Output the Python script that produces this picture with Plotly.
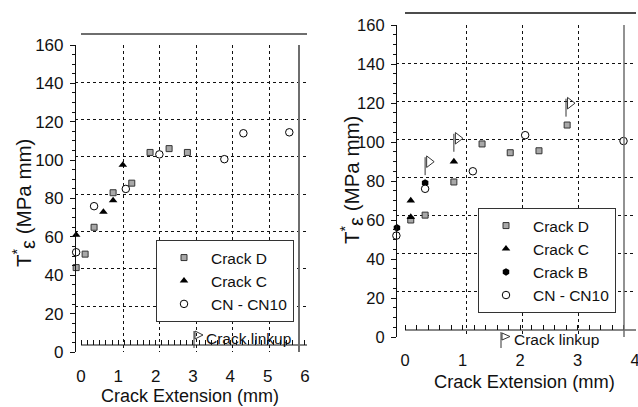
import plotly.graph_objects as go

# ---------------- data ----------------
# Left panel
L_D_x = [-0.13, 0.11, 0.35, 0.86, 1.36, 1.85, 2.36, 2.85]
L_D_y = [44, 51, 65, 83, 88, 104, 106, 104]
L_C_x = [-0.13, 0.60, 0.86, 1.12]
L_C_y = [61, 73, 79, 97.5]
L_CN_x = [-0.13, 0.35, 1.20, 2.10, 3.84, 4.35, 5.58]
L_CN_y = [52, 76, 85, 103, 100.5, 114, 114.5]

# Right panel
R_D_x = [0.10, 0.35, 0.85, 1.34, 1.83, 2.33, 2.82]
R_D_y = [60, 62.5, 79.5, 99, 94.5, 95.5, 108.7]
R_C_x = [0.10, 0.10, 0.85]
R_C_y = [61.5, 70, 90]
R_B_x = [-0.14, 0.35]
R_B_y = [56, 79]
R_CN_x = [-0.15, 0.35, 1.18, 2.09, 3.80]
R_CN_y = [52, 76, 85, 103.5, 100.5]
R_link_x = [0.35, 0.85, 2.80]
R_link_y = [83, 95, 113]

L_xticks = [0, 1, 2, 3, 4, 5, 6]
R_xticks = [0, 1, 2, 3, 4]
yticks = [0, 20, 40, 60, 80, 100, 120, 140, 160]

# ---------------- helpers ----------------
W, H = 638, 407
def fx(px):
    return px / W
def fy(py):
    return 1 - py / H

FONT = "Liberation Sans, Arial, sans-serif"
TXT = "#111"

fig = go.Figure()

sq = dict(symbol="square", size=6, color="#a8a8a8", line=dict(color="#333", width=1))
tri = dict(symbol="triangle-up", size=7.5, color="#000", line=dict(color="#000", width=0))
cir = dict(symbol="circle", size=7.5, color="#fff", line=dict(color="#000", width=1))
hexm = dict(symbol="hexagon", size=7.5, color="#000", line=dict(color="#000", width=0))

def sc(x, y, name, marker, xa, ya, legend):
    return go.Scatter(x=x, y=y, mode="markers", name=name, marker=marker,
                      xaxis=xa, yaxis=ya, legend=legend, cliponaxis=False)

# grid carriers
fig.add_trace(go.Scatter(x=[None], y=[None], xaxis="x3", yaxis="y3", showlegend=False, hoverinfo="skip"))
fig.add_trace(go.Scatter(x=[None], y=[None], xaxis="x4", yaxis="y4", showlegend=False, hoverinfo="skip"))

# left
fig.add_trace(sc(L_D_x, L_D_y, "Crack D", sq, "x", "y", "legend"))
fig.add_trace(sc(L_C_x, L_C_y, "Crack C", tri, "x", "y", "legend"))
fig.add_trace(sc(L_CN_x, L_CN_y, "CN - CN10", cir, "x", "y", "legend"))

# right
fig.add_trace(sc(R_D_x, R_D_y, "Crack D", sq, "x2", "y2", "legend2"))
fig.add_trace(sc(R_C_x, R_C_y, "Crack C", tri, "x2", "y2", "legend2"))
fig.add_trace(sc(R_B_x, R_B_y, "Crack B", hexm, "x2", "y2", "legend2"))
fig.add_trace(sc(R_CN_x, R_CN_y, "CN - CN10", cir, "x2", "y2", "legend2"))

# crack linkup flags (pole + open triangle) on the right panel
pole_h = 9.2
px_ = []
py_ = []
for x, y in zip(R_link_x, R_link_y):
    px_ += [x, x, None]
    py_ += [y, y + pole_h, None]
fig.add_trace(go.Scatter(x=px_, y=py_, mode="lines", line=dict(color="#333", width=1),
                         xaxis="x2", yaxis="y2", showlegend=False, hoverinfo="skip"))
fig.add_trace(go.Scatter(x=[x + 0.07 for x in R_link_x], y=[y + 6.9 for y in R_link_y],
                         mode="markers",
                         marker=dict(symbol="triangle-right-open", size=10, color="#333",
                                     line=dict(width=1)),
                         xaxis="x2", yaxis="y2", showlegend=False, hoverinfo="skip"))

tickfont_l = dict(family=FONT, size=17, color=TXT)
tickfont_r = dict(family=FONT, size=16.5, color=TXT)

def xax(domain, rng, pos, ticks, minor_dt, tf, standoff):
    return dict(domain=domain, range=rng, anchor="free", position=pos,
                showline=False, automargin=False, ticklabeloverflow="allow",
                ticks="inside", ticklen=5, tickcolor="#111", tickwidth=1,
                tickvals=ticks, ticklabelstandoff=standoff,
                minor=dict(dtick=minor_dt, ticks="inside", ticklen=5, tickcolor="#111", showgrid=False),
                showgrid=False, zeroline=False, tickfont=tf, fixedrange=True)

def yax(domain, pos, tf):
    return dict(domain=domain, range=[0, 160], anchor="free", position=pos,
                showline=True, linecolor="#111", linewidth=1.2, automargin=False,
                ticklabeloverflow="allow",
                ticks="outside", ticklen=5, tickcolor="#111", tickwidth=1,
                tickvals=yticks, ticklabelstandoff=3,
                minor=dict(dtick=5, ticks="outside", ticklen=3, tickcolor="#111", showgrid=False),
                showgrid=False, zeroline=False, tickfont=tf, fixedrange=True)

def grid_ax(domain, rng, vals, over):
    return dict(domain=domain, range=rng, overlaying=over, anchor="free", position=0,
                tickvals=vals, showticklabels=False, ticks="", showline=False, automargin=False,
                showgrid=True, gridcolor="#111", gridwidth=1, griddash="dot",
                zeroline=False, fixedrange=True)

Lxd = [fx(75), fx(307)]
Lyd = [fy(352), fy(45)]
Rxd = [fx(396), fx(636)]
Ryd = [fy(337), fy(25)]

layout = dict(
    template="none",
    width=W, height=H, margin=dict(l=0, r=0, t=0, b=0, pad=0, autoexpand=False),
    paper_bgcolor="white", plot_bgcolor="rgba(0,0,0,0)",
    font=dict(family=FONT, color=TXT),
    xaxis=xax(Lxd, [-6 / 37.33, 226 / 37.33], fy(345), L_xticks, 1 / 6, tickfont_l, 19),
    yaxis=yax(Lyd, fx(75), tickfont_l),
    xaxis2=xax(Rxd, [-9 / 57.5, 231 / 57.5], fy(330), R_xticks, 0.2, tickfont_r, 18),
    yaxis2=yax(Ryd, fx(396), tickfont_r),
    xaxis3=grid_ax(Lxd, [1 - 48 / 36.5, 5 + 38 / 36.5], [1, 2, 3, 4, 5], "x"),
    yaxis3=grid_ax(Lyd, [20 - 46 / 1.8667, 140 + 37 / 1.8667], [20, 40, 60, 80, 100, 120, 140], "y"),
    xaxis4=grid_ax(Rxd, [1 - 70 / 56, 3 + 58 / 56], [1, 2, 3], "x2"),
    yaxis4=grid_ax(Ryd, [20 - 46 / 1.9, 140 + 38 / 1.9], [20, 40, 60, 80, 100, 120, 140], "y2"),
    legend=dict(x=fx(156), y=fy(240), xanchor="left", yanchor="top",
                bgcolor="white", bordercolor="#333", borderwidth=1,
                font=dict(family=FONT, size=15.5, color=TXT), itemwidth=44,
                tracegroupgap=0),
    legend2=dict(x=fx(478), y=fy(208), xanchor="left", yanchor="top",
                 bgcolor="white", bordercolor="#333", borderwidth=1,
                 font=dict(family=FONT, size=15.5, color=TXT), itemwidth=44,
                 tracegroupgap=0),
    showlegend=True,
)
fig.update_layout(**layout)

shapes = []
# x-axis lines (start at x = 0)
shapes.append(dict(type="line", xref="paper", yref="paper", x0=fx(81), x1=fx(307), y0=fy(345), y1=fy(345),
                   line=dict(color="#111", width=1.2)))
shapes.append(dict(type="line", xref="paper", yref="paper", x0=fx(405), x1=fx(636), y0=fy(330), y1=fy(330),
                   line=dict(color="#111", width=1.2)))
# left frame pieces
shapes.append(dict(type="line", xref="paper", yref="paper", x0=fx(81), x1=fx(307), y0=fy(34), y1=fy(34),
                   line=dict(color="#6e6e6e", width=2)))
shapes.append(dict(type="line", xref="paper", yref="paper", x0=fx(299), x1=fx(299), y0=fy(45), y1=fy(352),
                   line=dict(color="#6e6e6e", width=2)))
# right frame pieces
shapes.append(dict(type="line", xref="paper", yref="paper", x0=fx(405), x1=fx(636), y0=fy(13), y1=fy(13),
                   line=dict(color="#111", width=1.3)))
shapes.append(dict(type="line", xref="paper", yref="paper", x0=fx(624), x1=fx(624), y0=fy(25), y1=fy(337),
                   line=dict(color="#6e6e6e", width=1.5)))

# legend flags for "Crack linkup"
def flag(px0, py_bot, py_top, tri):
    s = [dict(type="line", xref="paper", yref="paper", x0=fx(px0), x1=fx(px0), y0=fy(py_bot), y1=fy(py_top),
              line=dict(color="#333", width=1))]
    (a, b), (c, d), (e, f) = tri
    path = f"M{fx(a)},{fy(b)} L{fx(c)},{fy(d)} L{fx(e)},{fy(f)} Z"
    s.append(dict(type="path", xref="paper", yref="paper", path=path, line=dict(color="#333", width=1)))
    return s

shapes += flag(194, 348, 331, [(195, 331), (195, 339), (203, 335)])
shapes += flag(501, 348, 332, [(502, 333), (502, 340), (510, 336.5)])
fig.update_layout(shapes=shapes)

ann = []
ann.append(dict(text="Crack linkup", xref="paper", yref="paper", x=fx(204), y=fy(338),
                xanchor="left", yanchor="middle", showarrow=False,
                font=dict(family=FONT, size=15.5, color=TXT)))
ann.append(dict(text="Crack linkup", xref="paper", yref="paper", x=fx(512), y=fy(339),
                xanchor="left", yanchor="middle", showarrow=False,
                font=dict(family=FONT, size=15.5, color=TXT)))
ann.append(dict(text="Crack Extension (mm)", xref="paper", yref="paper", x=fx(190), y=fy(396),
                xanchor="center", yanchor="middle", showarrow=False,
                font=dict(family=FONT, size=18, color=TXT)))
ann.append(dict(text="Crack Extension (mm)", xref="paper", yref="paper", x=fx(524), y=fy(381),
                xanchor="center", yanchor="middle", showarrow=False,
                font=dict(family=FONT, size=18.3, color=TXT)))
ytitle = "T<sup>*</sup><sub><span style='font-size:20px'>ε</span></sub> (MPa mm)"
ann.append(dict(text=ytitle, xref="paper", yref="paper", x=fx(24), y=fy(203),
                xanchor="center", yanchor="middle", showarrow=False, textangle=-90,
                font=dict(family=FONT, size=20.5, color=TXT)))
ann.append(dict(text=ytitle, xref="paper", yref="paper", x=fx(352), y=fy(180),
                xanchor="center", yanchor="middle", showarrow=False, textangle=-90,
                font=dict(family=FONT, size=20.5, color=TXT)))
fig.update_layout(annotations=ann)

fig.write_html("out.html")
